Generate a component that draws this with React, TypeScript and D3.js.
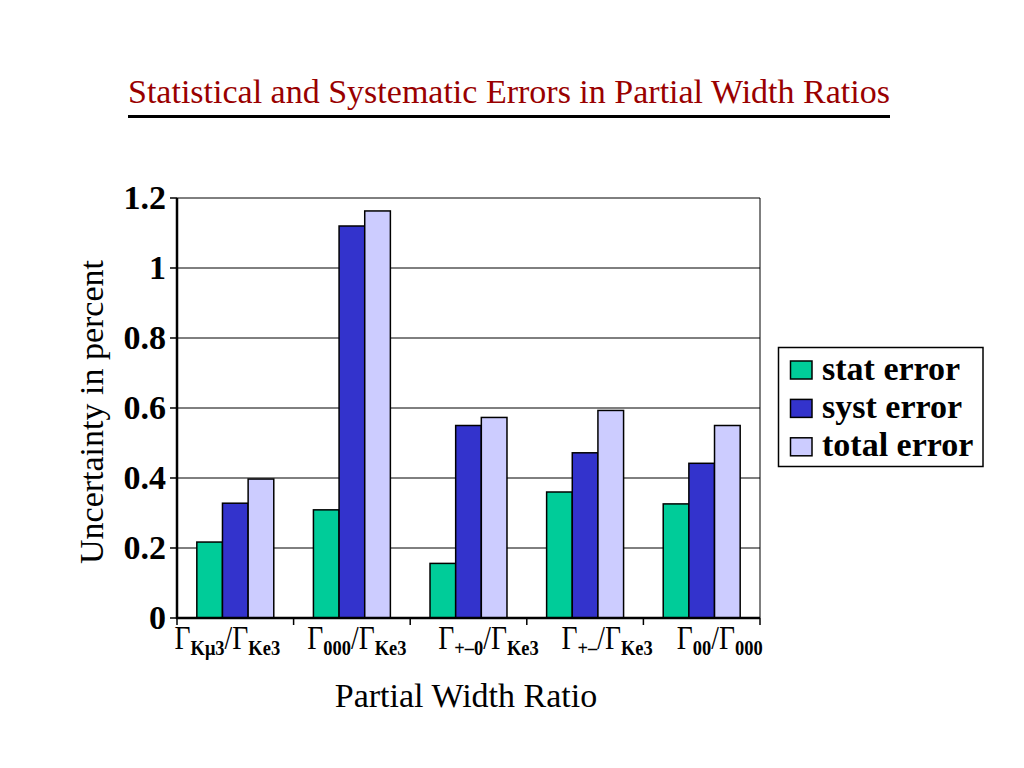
import React from "react";
import * as d3 from "d3";

const categories = ["Kμ3/Ke3", "000/Ke3", "+−0/Ke3", "+−/Ke3", "00/000"];
const labelParts: [string, string][] = [
  ["Kμ3", "Ke3"],
  ["000", "Ke3"],
  ["+–0", "Ke3"],
  ["+–", "Ke3"],
  ["00", "000"],
];
const seriesNames = ["stat error", "syst error", "total error"];
const statError = [0.217, 0.309, 0.156, 0.36, 0.326];
const systError = [0.328, 1.12, 0.55, 0.472, 0.442];
const totalError = [0.397, 1.163, 0.573, 0.593, 0.55];
const yTicks = [0, 0.2, 0.4, 0.6, 0.8, 1, 1.2];
const colors = ["#00CC99", "#3333CC", "#CCCCFF"];

const FONT = "Liberation Serif";
// horizontal offsets of the category labels relative to band centers (layout only)
const labelShift = [-8, 5, 20, 22, 18];

export default function App() {
  const W = 1024, H = 768;
  const left = 177, right = 760, top = 198, bottom = 618;
  const series = [statError, systError, totalError];

  const x = d3.scaleBand<string>().domain(categories).range([left, right]).padding(0);
  const y = d3.scaleLinear().domain([0, 1.2]).range([bottom, top]);
  const groupW = x.step() * 0.66;
  const inner = d3.scaleBand<number>().domain([0, 1, 2]).range([0, groupW]).padding(0);
  const ts = { fontFamily: FONT };

  return (
    <svg width={W} height={H} style={{ position: "absolute", left: 0, top: 0, background: "#fff" }}>
      <rect x={0} y={0} width={W} height={H} fill="#fff" />
      {/* Title */}
      <text x={509} y={103} textAnchor="middle" fontSize={34} fill="#990000" style={ts}>
        Statistical and Systematic Errors in Partial Width Ratios
      </text>
      <line x1={128} x2={890} y1={116.5} y2={116.5} stroke="#000" strokeWidth={3} />

      {/* gridlines */}
      {yTicks.map((t) => (
        <line key={t} x1={left} x2={right} y1={y(t)} y2={y(t)} stroke="#000" strokeWidth={1} />
      ))}
      {/* frame */}
      <line x1={right} x2={right} y1={top} y2={bottom} stroke="#000" strokeWidth={1} />

      {/* bars */}
      {categories.map((c, i) => {
        const gx = (x(c) as number) + (x.step() - groupW) / 2;
        return series.map((s, k) => (
          <rect
            key={c + k}
            x={gx + (inner(k) as number)}
            y={y(s[i])}
            width={inner.bandwidth()}
            height={bottom - y(s[i])}
            fill={colors[k]}
            stroke="#000"
            strokeWidth={1.5}
          />
        ));
      })}

      {/* axes */}
      <line x1={left} x2={left} y1={top} y2={bottom + 1} stroke="#000" strokeWidth={2.5} />
      <line x1={left - 1} x2={right} y1={bottom} y2={bottom} stroke="#000" strokeWidth={2.5} />
      {yTicks.map((t) => (
        <g key={"yt" + t}>
          <line x1={left - 7} x2={left} y1={y(t)} y2={y(t)} stroke="#000" strokeWidth={1.5} />
          <text x={166} y={y(t) + 11} textAnchor="end" fontSize={34} fontWeight="bold" style={ts}>
            {d3.format("")(t)}
          </text>
        </g>
      ))}
      {categories.map((c, i) => (
        <line key={"xt" + i} x1={(x(c) as number) + x.step()} x2={(x(c) as number) + x.step()} y1={bottom} y2={bottom + 7} stroke="#000" strokeWidth={1.5} />
      ))}
      <line x1={left} x2={left} y1={bottom} y2={bottom + 7} stroke="#000" strokeWidth={1.5} />

      {/* x tick labels */}
      {categories.map((c, i) => {
        const cx = (x(c) as number) + x.step() / 2 + labelShift[i];
        const [a, b] = labelParts[i];
        return (
          <g key={"xl" + i} transform={`translate(${cx},649) scale(0.84,1)`}>
            <text x={0} y={0} textAnchor="middle" fontSize={33} style={ts}>
              <tspan>Γ</tspan>
              <tspan fontSize={22} fontWeight="bold" dy={6}>{a}</tspan>
              <tspan dy={-6}>/Γ</tspan>
              <tspan fontSize={22} fontWeight="bold" dy={6}>{b}</tspan>
            </text>
          </g>
        );
      })}

      {/* axis titles */}
      <text x={466} y={707} textAnchor="middle" fontSize={34} style={ts}>Partial Width Ratio</text>
      <text transform="translate(103,412) rotate(-90)" textAnchor="middle" fontSize={34} style={ts}>
        Uncertainty in percent
      </text>

      {/* legend */}
      <rect x={778.5} y={347.5} width={204.5} height={119} fill="#fff" stroke="#000" strokeWidth={1.5} />
      {seriesNames.map((n, k) => (
        <g key={n}>
          <rect x={790.5} y={361 + k * 38.4} width={21.5} height={18} fill={colors[k]} stroke="#000" strokeWidth={1.5} />
          <text x={822} y={379.5 + k * 38.4} fontWeight="bold" style={{ ...ts, fontSize: 34 }}>{n}</text>
        </g>
      ))}
    </svg>
  );
}
